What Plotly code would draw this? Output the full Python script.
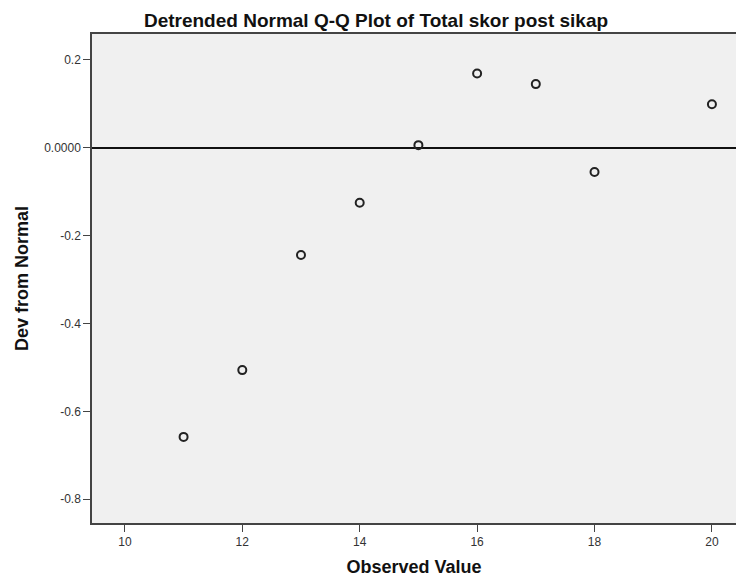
import plotly.graph_objects as go

observed = [11, 12, 13, 14, 15, 16, 17, 18, 20]
dev_from_normal = [-0.658, -0.506, -0.244, -0.125, 0.006, 0.169, 0.145, -0.055, 0.099]

x_ticks = [10, 12, 14, 16, 18, 20]
y_ticks = [0.2, 0.0, -0.2, -0.4, -0.6, -0.8]
y_tick_labels = ["0.2", "0.0000", "-0.2", "-0.4", "-0.6", "-0.8"]

fig = go.Figure()
fig.add_trace(go.Scatter(
    x=observed, y=dev_from_normal, mode="markers",
    marker=dict(symbol="circle-open", size=8, color="#222222", line=dict(width=2, color="#222222")),
    hoverinfo="skip", showlegend=False, cliponaxis=False,
))

fig.update_layout(
    width=736, height=581,
    margin=dict(l=92, r=0, t=34, b=58, autoexpand=False),
    paper_bgcolor="white", plot_bgcolor="#F0F0F0",
    font=dict(family="Arial, Liberation Sans, sans-serif", color="#222222"),
    title=dict(text="<b>Detrended Normal Q-Q Plot of Total skor post sikap</b>",
               x=376 / 736, xanchor="center", y=1 - 20 / 581, yanchor="middle",
               font=dict(size=19, color="#111111")),
)
fig.update_xaxes(
    range=[9.44, 20.41], tickvals=x_ticks, ticktext=[str(v) for v in x_ticks],
    showgrid=False, zeroline=False, automargin=False,
    showline=True, linecolor="#444444", linewidth=1.5, mirror=True,
    ticks="outside", ticklen=7, tickcolor="#444444", tickwidth=1,
    tickfont=dict(size=12, color="#333333"),
    title=dict(text="<b>Observed Value</b>", font=dict(size=18, color="#111111"), standoff=12),
)
fig.update_yaxes(
    range=[-0.854, 0.259], tickvals=y_ticks, ticktext=y_tick_labels,
    showgrid=False, zeroline=True, zerolinecolor="#111111", zerolinewidth=1.5,
    automargin=False,
    showline=True, linecolor="#444444", linewidth=1.5, mirror=False,
    ticks="outside", ticklen=7, tickcolor="#444444", tickwidth=1,
    tickfont=dict(size=12, color="#333333"),
    title=dict(text="<b>Dev from Normal</b>", font=dict(size=18, color="#111111"), standoff=11),
)

fig.write_html("out.html", config={"displayModeBar": False},
               post_script="document.body.style.margin='0';document.body.style.overflow='hidden';")
